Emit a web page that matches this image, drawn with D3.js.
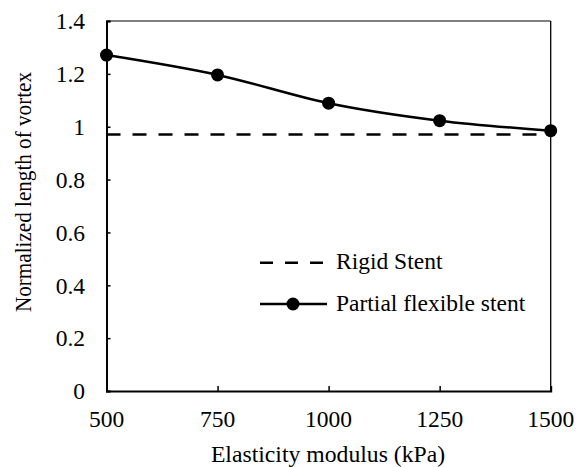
<!DOCTYPE html>
<html><head><meta charset="utf-8">
<script src="https://cdn.jsdelivr.net/npm/d3@7"></script>
</head><body style="margin:0">
<svg id="c" width="576" height="467"></svg>
<script>
const modulus = [500, 750, 1000, 1250, 1500];
const flexible = [1.271, 1.196, 1.089, 1.023, 0.985];
const rigid = [0.971, 0.971];
const rigidX = [500, 1500];
const xTicks = [500, 750, 1000, 1250, 1500];
const yTicks = [0, 0.2, 0.4, 0.6, 0.8, 1, 1.2, 1.4];

const svg = d3.select("#c");
const L = 106.5, R = 550.7, T = 21, B = 391;
const x = d3.scaleLinear().domain([500, 1500]).range([L, R]);
const y = d3.scaleLinear().domain([0, 1.4]).range([B, T]);

function txt(sel, fs) {
  return sel.style("font-family", "'Liberation Serif'").style("font-size", (fs || 23.5) + "px").attr("fill", "#000");
}

svg.append("line").attr("x1", L).attr("x2", R).attr("y1", T).attr("y2", T).attr("stroke", "#000").attr("stroke-width", 1);
svg.append("line").attr("x1", R).attr("x2", R).attr("y1", T).attr("y2", B).attr("stroke", "#000").attr("stroke-width", 1.3);

const ya = svg.append("g").attr("transform", `translate(${L},0)`)
  .call(d3.axisLeft(y).tickValues(yTicks).tickSize(-4).tickFormat(() => ""));
ya.select(".domain").attr("stroke-width", 2);
ya.selectAll(".tick line").attr("stroke-width", 1.5);
yTicks.forEach(v => {
  txt(svg.append("text").attr("x", L - 21.5).attr("y", y(v) + 8.3).attr("text-anchor", "end").text(String(v)));
});

const xa = svg.append("g").attr("transform", `translate(0,${B})`)
  .call(d3.axisBottom(x).tickValues(xTicks).tickSize(-5).tickFormat(() => ""));
xa.select(".domain").attr("stroke-width", 2);
xa.selectAll(".tick line").attr("stroke-width", 1.5);
xTicks.forEach(v => {
  txt(svg.append("text").attr("x", x(v)).attr("y", B + 35.5).attr("text-anchor", "middle").text(String(v)));
});

svg.append("path").datum(rigidX.map((d, i) => [d, rigid[i]]))
  .attr("d", d3.line().x(d => x(d[0])).y(d => y(d[1])))
  .attr("fill", "none").attr("stroke", "#000").attr("stroke-width", 2.5).attr("stroke-dasharray", "14,12");

svg.append("path").datum(modulus.map((d, i) => [d, flexible[i]]))
  .attr("d", d3.line().x(d => x(d[0])).y(d => y(d[1])).curve(d3.curveCatmullRom.alpha(0.5)))
  .attr("fill", "none").attr("stroke", "#000").attr("stroke-width", 2.5);
svg.selectAll("circle.pt").data(modulus).join("circle").attr("class", "pt")
  .attr("cx", d => x(d)).attr("cy", (d, i) => y(flexible[i])).attr("r", 6.5).attr("fill", "#000");

svg.append("line").attr("x1", 260).attr("x2", 327).attr("y1", 262.7).attr("y2", 262.7)
  .attr("stroke", "#000").attr("stroke-width", 2.5).attr("stroke-dasharray", "13,12");
txt(svg.append("text").attr("x", 336).attr("y", 269.3).text("Rigid Stent"));
svg.append("line").attr("x1", 260).attr("x2", 327).attr("y1", 304).attr("y2", 304)
  .attr("stroke", "#000").attr("stroke-width", 2.5);
svg.append("circle").attr("cx", 293).attr("cy", 304).attr("r", 6.5).attr("fill", "#000");
txt(svg.append("text").attr("x", 336).attr("y", 311).text("Partial flexible stent"));

txt(svg.append("text").attr("x", 328).attr("y", 462).attr("text-anchor", "middle").text("Elasticity modulus (kPa)"), 23.7);
txt(svg.append("text").attr("transform", "translate(30.5,192) rotate(-90)").attr("text-anchor", "middle")
  .attr("textLength", 240).attr("lengthAdjust", "spacingAndGlyphs").text("Normalized length of vortex"), 23);
</script>
</body></html>
